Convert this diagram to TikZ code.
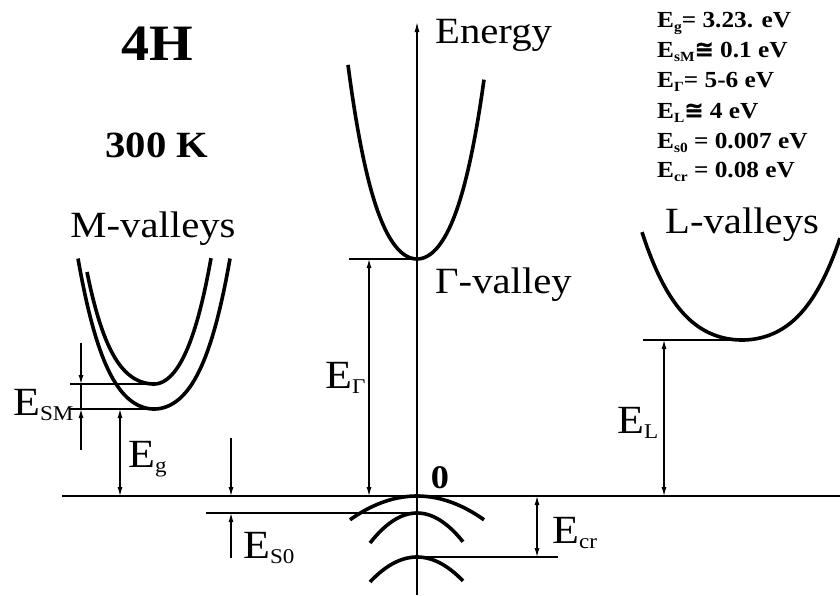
\documentclass[tikz,border=0pt]{standalone}
\usepackage{fontspec}
\setmainfont{Liberation Serif}[FakeStretch=1.1]
\newfontfamily\symfont{DejaVu Sans}[FakeBold=1.5]
\usetikzlibrary{arrows.meta}
\tikzset{
  band/.style={line width=3.6pt},
  thinline/.style={line width=1.2pt},
  dim/.style={line width=1.1pt, -{Latex[length=9pt,width=5pt]}},
  ddim/.style={line width=1.1pt, {Latex[length=9pt,width=5pt]}-{Latex[length=9pt,width=5pt]}},
  lab/.style={inner sep=0pt, font=\fontsize{37}{37}\selectfont},
  elab/.style={inner sep=0pt, anchor=base west},
  leg/.style={inner sep=0pt, anchor=base west, font=\bfseries\fontsize{23}{23}\selectfont},
}
\newcommand{\Elab}[1]{{\fontsize{40}{40}\selectfont E}\raisebox{-5pt}{\fontsize{21}{21}\selectfont #1}}
\newcommand{\Eleg}[1]{E\raisebox{-4pt}{\fontsize{14}{14}\selectfont #1}}
\begin{document}
\begin{tikzpicture}[x=1pt,y=-1pt]
\useasboundingbox (0,0) rectangle (840,595);
% axes
\coordinate (axb) at (417,595);
\coordinate (axt) at (417,22);
\coordinate (z0) at (62,496);
\coordinate (z1) at (840,496);
\draw[thinline,-{Latex[length=10pt,width=5pt]}] (axb) -- (axt);
\draw[thinline] (z0) -- (z1);
% Gamma valley
\draw[band] plot[domain=-69:67,samples=70] ({417+\x},{259-0.0263*\x*\x-0.0304*(\x/10)*(\x/10)*(\x/10)*(\x/10)});
% M valleys
\draw[band] plot[domain=-76:76,samples=70] ({154+\x},{409-0.0145*\x*\x-0.020*(\x/10)*(\x/10)*(\x/10)*(\x/10)});
\draw[band] plot[domain=-67:0,samples=40] ({154+\x},{384-0.01318*\x*\x-0.0262*(\x/10)*(\x/10)*(\x/10)*(\x/10)})
  -- plot[domain=0:57,samples=40] ({154+\x},{384-0.028*\x*\x-0.033*(\x/10)*(\x/10)*(\x/10)*(\x/10)});
% L valley
\draw[band] plot[domain=-100:98,samples=80] ({742+\x},{340-0.00614*\x*\x-0.00466*(\x/10)*(\x/10)*(\x/10)*(\x/10)});
% valence bands
\draw[band] plot[domain=-67:67,samples=40] ({417+\x},{496+0.0053*\x*\x});
\draw[band] plot[domain=-47:46,samples=40] ({417+\x},{513+0.0136*\x*\x});
\draw[band] plot[domain=-47:46,samples=40] ({417+\x},{557+0.0113*\x*\x});
% reference levels
\coordinate (g0) at (349,259); \coordinate (g1) at (417,259);
\coordinate (m0) at (70,384);  \coordinate (m1) at (154,384);
\coordinate (n0) at (70,409);  \coordinate (n1) at (154,409);
\coordinate (l0) at (643,340); \coordinate (l1) at (742,340);
\coordinate (s0) at (206,513); \coordinate (s1) at (417,513);
\coordinate (c0) at (417,557); \coordinate (c1) at (558,557);
\draw[thinline] (g0) -- (g1);
\draw[thinline] (m0) -- (m1);
\draw[thinline] (n0) -- (n1);
\draw[thinline] (l0) -- (l1);
\draw[thinline] (s0) -- (s1);
\draw[thinline] (c0) -- (c1);
% dimension arrows
\coordinate (sma) at (81,343); \coordinate (smb) at (81,384);
\coordinate (smc) at (81,409); \coordinate (smd) at (81,450);
\draw[dim] (sma) -- (smb);
\draw[thinline] (smb) -- (smc);
\draw[dim] (smd) -- (smc);
\coordinate (ega) at (120,409); \coordinate (egb) at (120,496);
\draw[ddim] (ega) -- (egb);
\coordinate (esa) at (231,438); \coordinate (esb) at (231,496);
\coordinate (esc) at (231,558); \coordinate (esd) at (231,513);
\draw[dim] (esa) -- (esb);
\draw[dim] (esc) -- (esd);
\coordinate (eGa) at (369,259); \coordinate (eGb) at (369,496);
\draw[ddim] (eGa) -- (eGb);
\coordinate (eca) at (537,496); \coordinate (ecb) at (537,557);
\draw[ddim] (eca) -- (ecb);
\coordinate (eLa) at (664,340); \coordinate (eLb) at (664,496);
\draw[ddim] (eLa) -- (eLb);
% labels
\node[lab, font=\bfseries\fontsize{51}{51}\selectfont] (t4h) at (157,44) {4H};
\node[lab, font=\bfseries\fontsize{37}{37}\selectfont] (t300) at (157,145) {300 K};
\node[lab, anchor=base] (tm) at (153,237) {M-valleys};
\node[lab, anchor=base west] (ten) at (435,43) {Energy};
\node[lab, anchor=base west] (tg) at (435,293) {Γ-valley};
\node[lab, anchor=base west] (tl) at (665,233) {L-valleys};
\node[lab, anchor=base, font=\bfseries\fontsize{33}{33}\selectfont] (t0) at (440,488) {0};
\node[elab] (esm) at (13,415) {\Elab{SM}};
\node[elab] (eg) at (128,467) {\Elab{g}};
\node[elab] (eG) at (325,388) {\Elab{Γ}};
\node[elab] (eL) at (617,433) {\Elab{L}};
\node[elab] (es0) at (243,558) {\Elab{S0}};
\node[elab] (ecr) at (552,543) {\Elab{cr}};
% legend
\node[leg] (k1) at (657,27)  {\Eleg{g}= 3.23. eV};
\node[leg] (k2) at (657,57)  {\Eleg{sM}{\symfont ≅} 0.1 eV};
\node[leg] (k3) at (657,87)  {\Eleg{Γ}= 5-6 eV};
\node[leg] (k4) at (657,118) {\Eleg{L}{\symfont ≅} 4 eV};
\node[leg] (k5) at (657,148) {\Eleg{s0} = 0.007 eV};
\node[leg] (k6) at (657,177) {\Eleg{cr} = 0.08 eV};
\end{tikzpicture}
\end{document}
